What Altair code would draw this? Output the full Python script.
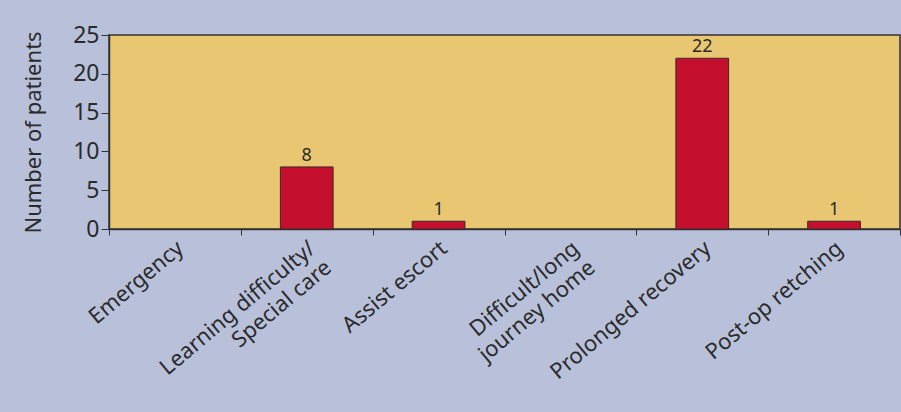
import altair as alt
import pandas as pd

categories = [
    "Emergency",
    "Learning difficulty/|Special care",
    "Assist escort",
    "Difficult/long|journey home",
    "Prolonged recovery",
    "Post-op retching",
]
patients = [0, 8, 1, 0, 22, 1]
y_ticks = [0, 5, 10, 15, 20, 25]

df = pd.DataFrame({"reason": categories, "patients": patients})

FONT = "Noto Sans"
TEXT = "#2a2a2a"

x = alt.X(
    "reason:N",
    sort=categories,
    title=None,
    scale=alt.Scale(domain=categories, paddingInner=0, paddingOuter=0),
    axis=alt.Axis(
        tickBand="extent",
        labelAngle=-40,
        labelAlign="right",
        labelBaseline="middle",
        labelExpr="split(datum.label, '|')",
        labelFont=FONT,
        labelFontSize=22,
        labelColor=TEXT,
        labelPadding=10,
        labelOffset=5,
        labelLineHeight=25,
        labelLimit=0,
        tickSize=6,
        tickColor="#333333",
        domainColor="#333333",
        domainWidth=1.5,
        labelOverlap=False,
    ),
)
y = alt.Y(
    "patients:Q",
    title="Number of patients",
    scale=alt.Scale(domain=[0, 25], nice=False),
    axis=alt.Axis(
        values=y_ticks,
        grid=False,
        labelOverlap=False,
        labelFont=FONT,
        labelFontSize=23,
        labelColor=TEXT,
        labelPadding=2,
        tickSize=8,
        tickColor="#333333",
        domainColor="#333333",
        domainWidth=1.5,
        titleFont=FONT,
        titleFontSize=22,
        titleFontWeight="normal",
        titleColor=TEXT,
        titlePadding=27,
    ),
)

base = alt.Chart(df).transform_filter("datum.patients > 0").encode(x=x, y=y)

bars = base.mark_bar(
    color="#c4102e", stroke="#3a2a2a", strokeWidth=1,
    width=alt.RelativeBandSize(0.4),
)

labels = base.mark_text(
    font=FONT, fontSize=18, color=TEXT, dy=-2, baseline="bottom"
).encode(text="patients:Q")

chart = (
    alt.layer(bars, labels)
    .properties(
        width=791,
        height=194,
        background="#b9c1da",
        padding={"left": 109, "top": 35, "right": 1, "bottom": 183},
        autosize=alt.AutoSizeParams(type="none"),
    )
    .configure_view(fill="#e8c672", stroke="#333333", strokeWidth=1.5)
)

chart.save("out.html", embed_options={"renderer": "svg", "actions": False})
